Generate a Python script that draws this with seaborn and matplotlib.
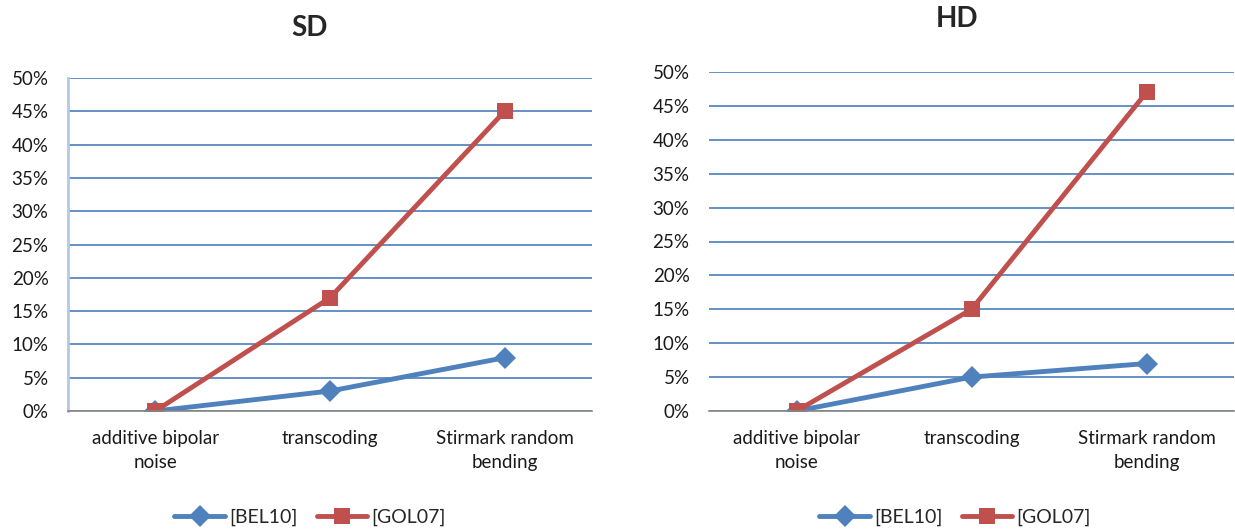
import pandas as pd
import matplotlib
matplotlib.use("Agg")
import matplotlib.pyplot as plt
import seaborn as sns
from matplotlib.ticker import PercentFormatter

sns.set_style("white")
plt.rcParams['font.family'] = ['Lato', 'DejaVu Sans']

# Datos
categorias = ["additive bipolar\nnoise", "transcoding", "Stirmark random\nbending"]
series = ["[BEL10]", "[GOL07]"]
sd_bel10 = [0, 3, 8]
sd_gol07 = [0, 17, 45]
hd_bel10 = [0, 5, 7]
hd_gol07 = [0, 15, 47]

colores = {"[BEL10]": "#4F81BD", "[GOL07]": "#C0504D"}
marcadores = {"[BEL10]": "D", "[GOL07]": "s"}


def armar_df(bel, gol):
    filas = []
    for c, v in zip(categorias, bel):
        filas.append({"cat": c, "valor": v, "serie": "[BEL10]"})
    for c, v in zip(categorias, gol):
        filas.append({"cat": c, "valor": v, "serie": "[GOL07]"})
    return pd.DataFrame(filas)


fig = plt.figure(figsize=(12.35, 5.29), dpi=100)
ax1 = fig.add_axes([68 / 1235, 1 - 411 / 529, 524 / 1235, 333 / 529])
ax2 = fig.add_axes([709 / 1235, 1 - 411 / 529, 525 / 1235, 339 / 529])

paneles = [(ax1, armar_df(sd_bel10, sd_gol07), "SD", 309, 28, True, 310),
           (ax2, armar_df(hd_bel10, hd_gol07), "HD", 957, 19, False, 955)]

for ax, df, titulo, tx, ty, spine_izq, lx in paneles:
    sns.lineplot(data=df, x="cat", y="valor", hue="serie", style="serie",
                 palette=colores, markers=marcadores, dashes=False,
                 linewidth=3.5, markersize=11, markeredgewidth=0, ax=ax, sort=False)
    ax.set_xlim(-0.5, 2.5)
    ax.set_ylim(0, 50)
    ax.set_yticks(range(0, 51, 5))
    ax.yaxis.set_major_formatter(PercentFormatter(decimals=0))
    ax.grid(axis="y", color="#4A7EBB", linewidth=1.2)
    ax.set_axisbelow(True)
    for s in ["top", "right"]:
        ax.spines[s].set_visible(False)
    ax.spines["bottom"].set_color("#868686")
    ax.spines["bottom"].set_linewidth(1.2)
    if spine_izq:
        ax.spines["left"].set_color("#B4C7E7")
        ax.spines["left"].set_linewidth(2)
    else:
        ax.spines["left"].set_visible(False)
    ax.tick_params(axis="y", length=0, labelsize=13.5, colors="#1a1a1a", pad=14)
    ax.tick_params(axis="x", length=0, labelsize=13.5, colors="#1a1a1a", pad=14)
    for lbl in ax.get_xticklabels():
        lbl.set_linespacing(1.45)
    ax.set_xlabel("")
    ax.set_ylabel("")
    fig.text(tx / 1235, 1 - ty / 529, titulo, ha="center", va="center",
             fontsize=20, fontweight="bold")
    ax.legend(loc="center", bbox_to_anchor=(lx / 1235, 1 - 517 / 529),
              bbox_transform=fig.transFigure, ncol=2, frameon=False,
              fontsize=14, handlelength=2.6, columnspacing=1.0, handletextpad=0.2,
              markerscale=1.0)

fig.savefig("out.png", dpi=100)
